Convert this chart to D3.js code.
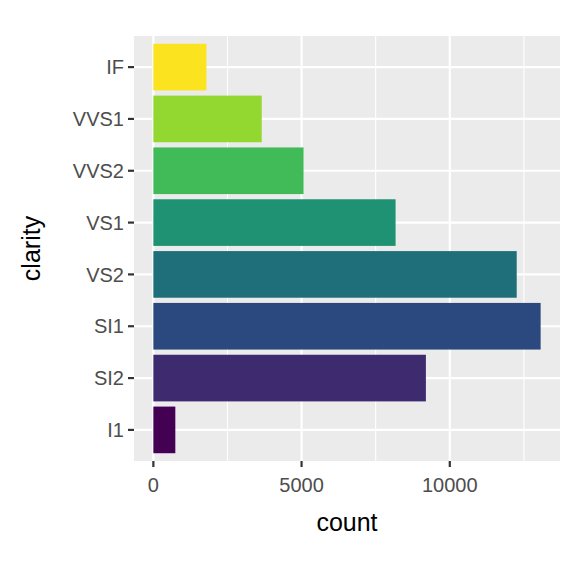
<!DOCTYPE html><html><head><script src="https://d3js.org/d3.v7.min.js"></script>
<style>body{margin:0;background:#fff}</style></head><body><script>
const categories=["I1","SI2","SI1","VS2","VS1","VVS2","VVS1","IF"];
const counts=[741,9194,13065,12258,8171,5066,3655,1790];
const colors=["#440154","#3E2A6F","#2C497F","#1F6F7B","#1F9274","#40BB58","#93D731","#FCE31F"];
const xTicks=[0,5000,10000];
const W=576,H=576,L=134,R=560,T=36,B=461;
const svg=d3.select("body").append("svg").attr("width",W).attr("height",H).style("font-family","Liberation Sans, Arial, sans-serif");
const x=d3.scaleLinear().domain([-0.05*13065,13065*1.05]).range([L,R]);
const y=d3.scalePoint().domain(categories.slice().reverse()).range([T,B]).padding(0.6/ (7+1.2) *8.2 /1.0 *0+0.6);
const step=(B-T)/8.2;
const yc=c=>T+(0.6+categories.slice().reverse().indexOf(c))*step;
svg.append("rect").attr("x",L).attr("y",T).attr("width",R-L).attr("height",B-T).attr("fill","#EBEBEB");
[2500,7500,12500].forEach(v=>svg.append("line").attr("x1",x(v)).attr("x2",x(v)).attr("y1",T).attr("y2",B).attr("stroke","#fff").attr("stroke-width",1.1));
xTicks.forEach(v=>svg.append("line").attr("x1",x(v)).attr("x2",x(v)).attr("y1",T).attr("y2",B).attr("stroke","#fff").attr("stroke-width",2.2));
categories.forEach(c=>svg.append("line").attr("x1",L).attr("x2",R).attr("y1",yc(c)).attr("y2",yc(c)).attr("stroke","#fff").attr("stroke-width",2.2));
categories.forEach((c,i)=>svg.append("rect").attr("x",x(0)).attr("y",yc(c)-0.45*step).attr("width",x(counts[i])-x(0)).attr("height",0.9*step).attr("fill",colors[i]));
categories.forEach(c=>{
 svg.append("line").attr("x1",L-6).attr("x2",L).attr("y1",yc(c)).attr("y2",yc(c)).attr("stroke","#333").attr("stroke-width",2.2);
 svg.append("text").attr("x",L-10).attr("y",yc(c)).attr("dy","0.36em").attr("text-anchor","end").attr("font-size",20).attr("fill","#4D4D4D").text(c);
});
xTicks.forEach(v=>{
 svg.append("line").attr("x1",x(v)).attr("x2",x(v)).attr("y1",B).attr("y2",B+6).attr("stroke","#333").attr("stroke-width",2.2);
 svg.append("text").attr("x",x(v)).attr("y",B+31).attr("text-anchor","middle").attr("font-size",20).attr("fill","#4D4D4D").text(v);
});
svg.append("text").attr("x",(L+R)/2).attr("y",531).attr("text-anchor","middle").attr("font-size",25).text("count");
svg.append("text").attr("transform",`translate(40,${(T+B)/2}) rotate(-90)`).attr("text-anchor","middle").attr("font-size",25).text("clarity");
</script></body></html>
